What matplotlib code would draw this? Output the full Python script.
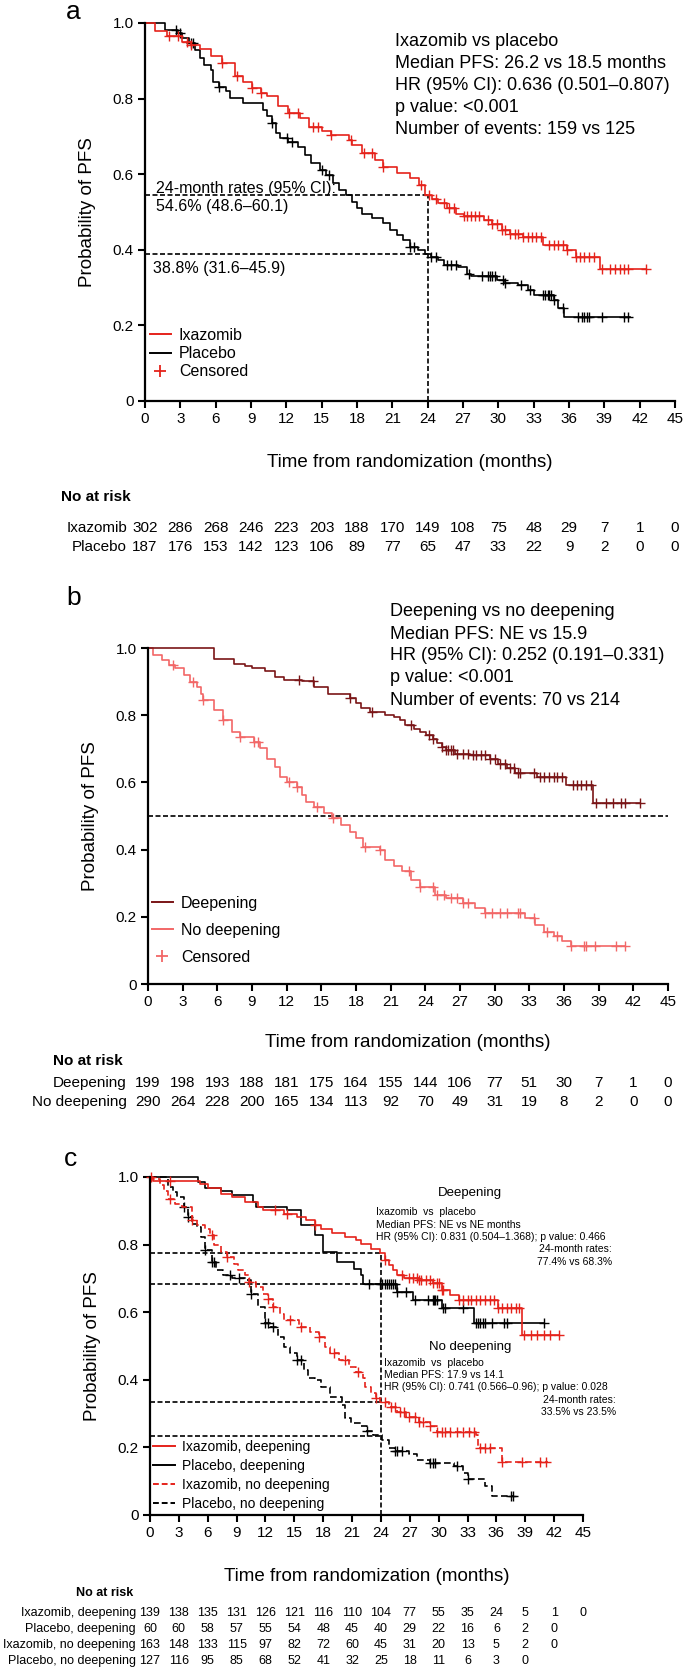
import numpy as np
import matplotlib
matplotlib.use("Agg")
import matplotlib.pyplot as plt
from matplotlib.lines import Line2D
from matplotlib.transforms import blended_transform_factory

plt.rcParams['font.family'] = ['Liberation Sans', 'DejaVu Sans']

W, H = 685, 1668

# ---------------- panel a : ixazomib vs placebo ----------------
a_ixa_t = [0, 0.85, 1.86, 3.16, 3.9, 4.64, 5.57, 6.5, 7.6, 8.35, 9.1, 9.84, 10.4, 11.3, 12.1, 13.2,
           13.9, 15.0, 15.8, 17.3, 17.6, 18.4, 19.5, 20.2, 21.4, 22.5, 23.3, 23.8, 24.4, 24.9, 25.6,
           26.4, 27.1, 28.8, 29.5, 30.3, 31.0, 32.1, 33.8, 35.8, 36.6, 38.6, 42.5]
a_ixa_s = [1.0, 0.98, 0.965, 0.95, 0.943, 0.93, 0.912, 0.893, 0.859, 0.845, 0.828, 0.815, 0.806, 0.78,
           0.761, 0.748, 0.726, 0.713, 0.704, 0.691, 0.678, 0.655, 0.638, 0.62, 0.602, 0.589, 0.572,
           0.546, 0.535, 0.523, 0.51, 0.496, 0.489, 0.479, 0.468, 0.452, 0.443, 0.435, 0.413, 0.399,
           0.382, 0.348, 0.348]
a_ixa_c = [2.04, 2.78, 3.53, 3.9, 6.5, 7.8, 9.1, 9.84, 12.25, 13.0, 14.3, 14.67, 15.8, 17.45, 18.57,
           19.3, 20.24, 23.4, 24.14, 24.7, 25.4, 25.8, 26.2, 27.1, 27.3, 27.7, 28.0, 28.4, 29.1, 29.5,
           29.9, 30.3, 30.6, 31.0, 31.4, 31.7, 32.1, 32.5, 32.9, 33.2, 33.6, 34.3, 34.7, 35.1, 35.5,
           35.8, 36.6, 36.9, 37.3, 37.7, 38.1, 38.8, 39.5, 39.9, 40.3, 40.7, 41.0, 42.5]
a_pla_t = [0, 1.67, 2.78, 3.16, 3.71, 4.27, 4.64, 5.01, 5.57, 5.76, 6.31, 6.87, 7.24, 8.35, 10.0, 10.4,
           10.8, 11.1, 11.5, 12.1, 13.0, 13.6, 14.1, 14.9, 15.4, 16.0, 16.5, 17.1, 17.6, 18.0, 18.4,
           19.3, 20.2, 20.8, 21.4, 21.9, 22.5, 23.2, 23.8, 24.3, 24.9, 25.4, 26.6, 27.3, 27.7, 29.9,
           30.6, 31.7, 32.5, 33.0, 34.7, 35.1, 35.6, 41.2]
a_pla_s = [1.0, 0.982, 0.973, 0.96, 0.947, 0.929, 0.907, 0.89, 0.876, 0.845, 0.832, 0.819, 0.801, 0.788,
           0.77, 0.753, 0.735, 0.708, 0.695, 0.686, 0.673, 0.651, 0.629, 0.611, 0.598, 0.576, 0.558,
           0.545, 0.527, 0.51, 0.496, 0.483, 0.47, 0.452, 0.439, 0.426, 0.408, 0.399, 0.388, 0.382,
           0.373, 0.36, 0.355, 0.337, 0.33, 0.32, 0.311, 0.307, 0.293, 0.28, 0.267, 0.245, 0.223, 0.223]
a_pla_c = [2.6, 2.97, 3.9, 4.08, 6.31, 10.8, 12.07, 12.44, 15.0, 15.6, 22.5, 22.8, 24.3, 24.7, 25.6,
           26.0, 26.4, 27.5, 28.6, 29.1, 29.3, 29.5, 29.7, 30.4, 30.6, 31.9, 32.7, 33.8, 34.0, 34.2,
           34.3, 34.5, 34.7, 35.5, 36.8, 37.1, 37.3, 37.5, 37.7, 38.8, 40.7, 41.0]
a_rate_24 = [0.546, 0.388]
a_risk_labels = ['Ixazomib', 'Placebo']
a_risk = [[302, 286, 268, 246, 223, 203, 188, 170, 149, 108, 75, 48, 29, 7, 1, 0],
          [187, 176, 153, 142, 123, 106, 89, 77, 65, 47, 33, 22, 9, 2, 0, 0]]
a_stats = ['Ixazomib vs placebo', 'Median PFS: 26.2 vs 18.5 months',
           'HR (95% CI): 0.636 (0.501\u20130.807)', 'p value: <0.001',
           'Number of events: 159 vs 125']

# ---------------- panel b : deepening vs no deepening ----------------
b_dp_t = [0, 5.75, 7.48, 8.4, 8.96, 10.1, 11.0, 11.8, 13.3, 14.4, 15.6, 17.5, 18.0, 18.4, 19.2, 20.5,
          21.3, 21.8, 22.2, 23.0, 23.5, 24.1, 24.7, 25.0, 25.4, 25.8, 26.6, 27.9, 29.6, 30.3, 31.1,
          31.8, 33.7, 36.2, 38.5, 42.6]
b_dp_s = [1.0, 0.968, 0.951, 0.945, 0.939, 0.932, 0.914, 0.906, 0.902, 0.884, 0.864, 0.85, 0.835, 0.82,
          0.81, 0.8, 0.795, 0.785, 0.77, 0.76, 0.75, 0.74, 0.73, 0.716, 0.706, 0.696, 0.686, 0.681,
          0.671, 0.656, 0.642, 0.627, 0.617, 0.592, 0.538, 0.538]
b_dp_c = [13.1, 14.3, 17.5, 19.4, 22.8, 24.3, 24.7, 25.4, 25.8, 26.0, 26.2, 26.4, 26.7, 27.3, 27.7,
          28.1, 28.4, 28.8, 29.2, 29.6, 30.0, 30.5, 30.9, 31.3, 31.7, 32.0, 32.2, 33.4, 33.9, 34.3,
          34.7, 35.1, 35.4, 35.8, 36.8, 37.1, 37.5, 37.9, 38.3, 38.8, 39.6, 40.2, 40.9, 41.3, 42.6]
b_nd_t = [0, 0.45, 1.21, 1.78, 2.34, 3.1, 3.67, 4.24, 4.61, 4.8, 5.75, 6.5, 7.26, 8.0, 9.15, 9.72, 10.3,
          11.0, 11.4, 12.0, 12.9, 13.3, 13.7, 14.4, 15.2, 15.96, 16.7, 17.5, 18.0, 18.6, 20.1, 20.5,
          21.3, 22.0, 22.8, 23.5, 24.8, 25.8, 27.3, 28.3, 29.2, 32.6, 33.5, 34.3, 35.1, 35.8, 36.6,
          41.3]
b_nd_s = [1.0, 0.98, 0.963, 0.949, 0.939, 0.919, 0.899, 0.884, 0.864, 0.845, 0.815, 0.785, 0.75, 0.736,
          0.721, 0.701, 0.671, 0.647, 0.617, 0.602, 0.587, 0.562, 0.543, 0.528, 0.508, 0.493, 0.473,
          0.453, 0.434, 0.409, 0.399, 0.369, 0.35, 0.335, 0.31, 0.29, 0.265, 0.255, 0.241, 0.226,
          0.211, 0.196, 0.176, 0.156, 0.144, 0.127, 0.112, 0.112]
b_nd_c = [2.16, 3.86, 4.8, 6.5, 8.0, 9.15, 9.5, 12.2, 12.9, 14.6, 16.0, 18.8, 20.1, 22.6, 23.5, 24.7,
          25.0, 25.6, 26.2, 26.7, 27.3, 27.7, 29.2, 29.8, 30.5, 31.1, 32.0, 32.2, 33.4, 34.5, 35.4,
          36.6, 37.7, 37.9, 38.7, 40.5, 41.3]
b_risk_labels = ['Deepening', 'No deepening']
b_risk = [[199, 198, 193, 188, 181, 175, 164, 155, 144, 106, 77, 51, 30, 7, 1, 0],
          [290, 264, 228, 200, 165, 134, 113, 92, 70, 49, 31, 19, 8, 2, 0, 0]]
b_stats = ['Deepening vs no deepening', 'Median PFS: NE vs 15.9',
           'HR (95% CI): 0.252 (0.191\u20130.331)', 'p value: <0.001',
           'Number of events: 70 vs 214']

# ---------------- panel c : by treatment and deepening ----------------
c_id_t = [0, 0.3, 5.2, 5.99, 7.35, 8.5, 9.85, 11.2, 11.7, 13.9, 15.3, 16.2, 17.1, 17.8, 18.9, 20.3,
          21.4, 21.9, 23.0, 23.9, 24.4, 24.8, 25.3, 25.7, 26.4, 28.0, 29.4, 30.3, 31.2, 32.1, 36.2,
          38.7, 42.5]
c_id_s = [1.0, 0.988, 0.98, 0.966, 0.951, 0.941, 0.926, 0.911, 0.901, 0.892, 0.882, 0.872, 0.857, 0.847,
          0.833, 0.823, 0.813, 0.803, 0.788, 0.774, 0.754, 0.739, 0.724, 0.709, 0.7, 0.695, 0.685,
          0.665, 0.65, 0.637, 0.611, 0.532, 0.532]
c_id_c = [0.1, 2.1, 13.0, 14.2, 17.1, 24.4, 26.2, 26.9, 27.3, 27.8, 28.0, 28.2, 28.7, 29.1, 29.4, 29.8,
          30.0, 30.3, 30.5, 32.1, 32.5, 33.0, 33.4, 33.9, 34.3, 34.8, 35.3, 35.7, 36.2, 36.6, 37.1,
          37.5, 38.0, 38.4, 38.9, 39.6, 40.2, 40.9, 41.6, 42.5]
c_pd_t = [0, 5.0, 5.7, 7.35, 8.5, 10.7, 11.0, 14.2, 15.7, 17.1, 18.0, 19.4, 21.2, 21.9, 22.1, 25.7, 27.3,
          30.3, 33.7, 40.9]
c_pd_s = [1.0, 0.985, 0.966, 0.959, 0.946, 0.926, 0.911, 0.901, 0.857, 0.828, 0.778, 0.749, 0.729, 0.709,
          0.683, 0.66, 0.637, 0.611, 0.568, 0.568]
c_pd_c = [22.8, 23.9, 24.1, 24.4, 24.6, 24.8, 25.0, 25.3, 25.5, 25.7, 26.6, 27.5, 28.9, 29.4, 29.5, 29.6,
          29.8, 30.5, 30.7, 32.5, 33.9, 34.1, 34.3, 34.6, 34.8, 35.5, 36.8, 37.1, 40.9]
c_in_t = [0, 0.3, 1.0, 1.45, 1.9, 2.6, 3.3, 4.4, 4.85, 5.76, 6.2, 6.67, 7.35, 8.0, 8.7, 9.15, 9.85, 10.3,
          10.98, 11.7, 12.3, 12.8, 13.5, 13.9, 15.5, 16.6, 17.6, 18.2, 18.7, 19.6, 20.7, 21.4, 22.1,
          22.3, 23.0, 23.5, 23.9, 24.8, 25.7, 26.6, 28.0, 29.1, 29.8, 33.9, 34.1, 36.6, 41.4]
c_in_s = [1.0, 0.995, 0.975, 0.96, 0.936, 0.921, 0.911, 0.872, 0.857, 0.847, 0.828, 0.798, 0.778, 0.764,
          0.744, 0.724, 0.709, 0.69, 0.675, 0.655, 0.64, 0.616, 0.596, 0.576, 0.557, 0.542, 0.527,
          0.498, 0.478, 0.458, 0.438, 0.424, 0.404, 0.38, 0.36, 0.345, 0.335, 0.321, 0.306, 0.291,
          0.276, 0.262, 0.247, 0.237, 0.197, 0.158, 0.158]
c_in_c = [2.1, 4.4, 6.4, 8.0, 10.3, 12.3, 12.8, 14.6, 15.7, 17.6, 19.1, 20.3, 21.6, 23.5, 24.4, 25.0,
          25.5, 26.0, 26.4, 26.9, 27.5, 28.0, 28.4, 29.1, 29.8, 30.3, 30.7, 31.2, 31.9, 32.5, 33.2,
          33.7, 34.3, 34.8, 35.3, 36.6, 38.7, 40.5, 41.2]
c_pn_t = [0, 1.9, 2.4, 2.8, 3.5, 3.95, 4.4, 4.85, 5.3, 5.76, 6.4, 6.9, 7.6, 8.5, 10.1, 10.5, 11.2, 11.9,
          12.6, 13.3, 13.9, 14.6, 15.3, 16.0, 16.4, 17.1, 17.8, 18.7, 20.0, 20.3, 20.9, 21.9, 22.6,
          23.2, 24.1, 24.8, 25.5, 26.9, 27.8, 29.1, 31.6, 32.5, 33.0, 34.8, 35.5, 37.7]
c_pn_s = [1.0, 0.97, 0.956, 0.941, 0.911, 0.882, 0.862, 0.852, 0.823, 0.783, 0.749, 0.724, 0.709, 0.7,
          0.695, 0.655, 0.616, 0.567, 0.557, 0.527, 0.498, 0.478, 0.458, 0.429, 0.404, 0.399, 0.379,
          0.35, 0.325, 0.287, 0.272, 0.263, 0.248, 0.238, 0.223, 0.198, 0.189, 0.179, 0.164, 0.154,
          0.145, 0.125, 0.106, 0.087, 0.057, 0.057]
c_pn_c = [3.5, 3.95, 5.76, 6.4, 6.7, 8.3, 9.2, 10.5, 11.9, 12.3, 12.8, 15.3, 15.7, 22.6, 25.5, 25.7,
          26.2, 29.1, 29.4, 29.6, 31.9, 33.0, 37.5, 37.7]
c_rate_24 = [0.774, 0.683, 0.335, 0.235]
c_risk_labels = ['Ixazomib, deepening', 'Placebo, deepening', 'Ixazomib, no deepening',
                 'Placebo, no deepening']
c_risk = [[139, 138, 135, 131, 126, 121, 116, 110, 104, 77, 55, 35, 24, 5, 1, 0],
          [60, 60, 58, 57, 55, 54, 48, 45, 40, 29, 22, 16, 6, 2, 0],
          [163, 148, 133, 115, 97, 82, 72, 60, 45, 31, 20, 13, 5, 2, 0],
          [127, 116, 95, 85, 68, 52, 41, 32, 25, 18, 11, 6, 3, 0]]
c_deep_txt = ['Ixazomib  vs  placebo', 'Median PFS: NE vs NE months',
              'HR (95% CI): 0.831 (0.504\u20131.368); p value: 0.466']
c_deep_rate = ['24-month rates:', '77.4% vs 68.3%']
c_nodeep_txt = ['Ixazomib  vs  placebo', 'Median PFS: 17.9 vs 14.1',
                'HR (95% CI): 0.741 (0.566\u20130.96); p value: 0.028']
c_nodeep_rate = ['24-month rates:', '33.5% vs 23.5%']

months = np.arange(0, 46, 3)
RED = '#e5231b'
DARKRED = '#7a1517'
SALMON = '#f26767'


def fx(x):
    return x / W


def fy(y):
    return 1 - y / H


def km(ax, t, s, cens, color, ls='-'):
    t = np.asarray(t)
    s = np.asarray(s)
    ax.step(t, s, where='post', color=color, lw=1.2, ls=ls, clip_on=False)
    idx = np.searchsorted(t, cens, side='right') - 1
    ax.plot(cens, s[idx], ls='none', marker='+', ms=6.5, mew=1.0, color=color, clip_on=False)


def setup(ax, tsize=11):
    ax.set_xlim(0, 45)
    ax.set_ylim(0, 1)
    for sp in ['top', 'right']:
        ax.spines[sp].set_visible(False)
    for sp in ['left', 'bottom']:
        ax.spines[sp].set_linewidth(1.6)
    ax.set_xticks(months)
    ax.set_yticks([0, 0.2, 0.4, 0.6, 0.8, 1.0])
    ax.set_yticklabels(['0', '0.2', '0.4', '0.6', '0.8', '1.0'])
    ax.tick_params(direction='out', length=5, width=1.5, labelsize=tsize, pad=3)


def risk_table(fig, ax, title_xy, labels, rows, ys, label_right, size):
    fig.text(fx(title_xy[0]), fy(title_xy[1]), 'No at risk', fontsize=size, fontweight='bold',
             va='center', ha='left')
    tr = blended_transform_factory(ax.transData, fig.transFigure)
    for lab, row, y in zip(labels, rows, ys):
        fig.text(fx(label_right), fy(y), lab, fontsize=size, ha='right', va='center')
        for m, n in zip(months, row):
            ax.text(m, fy(y), str(n), transform=tr, fontsize=size, ha='center', va='center',
                    clip_on=False)


fig = plt.figure(figsize=(W / 100, H / 100), dpi=100)

# ---------- a ----------
ax = fig.add_axes([fx(145), fy(401), 530 / W, 378 / H])
setup(ax)
for r in a_rate_24:
    ax.plot([0, 24], [r, r], color='black', lw=1.2, ls=(0, (3, 1.5)))
ax.plot([24, 24], [0, a_rate_24[0]], color='black', lw=1.2, ls=(0, (3, 1.5)))
km(ax, a_pla_t, a_pla_s, a_pla_c, 'black')
km(ax, a_ixa_t, a_ixa_s, a_ixa_c, RED)
ax.set_ylabel('Probability of PFS', fontsize=13.5, labelpad=12)
ax.set_xlabel('Time from randomization (months)', fontsize=13.5, labelpad=20)
h = [Line2D([], [], color=RED, lw=1.4), Line2D([], [], color='black', lw=1.4),
     Line2D([], [], color=RED, ls='none', marker='+', ms=9, mew=1.3)]
fig.legend(h, ['Ixazomib', 'Placebo', 'Censored'], loc='upper left',
           bbox_to_anchor=(fx(150), fy(328)), frameon=False, fontsize=11.5, handlelength=1.3,
           handletextpad=0.5, labelspacing=0.2, borderpad=0, borderaxespad=0)
for i, s in enumerate(a_stats):
    fig.text(fx(395), fy(41 + 22 * i), s, fontsize=13, va='center')
fig.text(fx(156), fy(188), '24-month rates (95% CI):', fontsize=11.5, va='center')
fig.text(fx(156), fy(207), '54.6% (48.6\u201360.1)', fontsize=11.5, va='center')
fig.text(fx(153), fy(268), '38.8% (31.6\u201345.9)', fontsize=11.5, va='center')
fig.text(fx(66), fy(12), 'a', fontsize=19, va='center')
risk_table(fig, ax, (61, 497), a_risk_labels, a_risk, [528, 547], 127, 11)

# ---------- b ----------
ax = fig.add_axes([fx(148), fy(984), 520 / W, 336 / H])
setup(ax)
ax.plot([0, 45], [0.5, 0.5], color='black', lw=1.2, ls=(0, (3, 1.5)))
km(ax, b_nd_t, b_nd_s, b_nd_c, SALMON)
km(ax, b_dp_t, b_dp_s, b_dp_c, DARKRED)
ax.set_ylabel('Probability of PFS', fontsize=13.5, labelpad=12)
ax.set_xlabel('Time from randomization (months)', fontsize=13.5, labelpad=18)
h = [Line2D([], [], color=DARKRED, lw=1.4), Line2D([], [], color=SALMON, lw=1.4),
     Line2D([], [], color=SALMON, ls='none', marker='+', ms=9, mew=1.3)]
fig.legend(h, ['Deepening', 'No deepening', 'Censored'], loc='upper left',
           bbox_to_anchor=(fx(152), fy(896)), frameon=False, fontsize=11.5, handlelength=1.3,
           handletextpad=0.5, labelspacing=0.75, borderpad=0, borderaxespad=0)
for i, s in enumerate(b_stats):
    fig.text(fx(390), fy(612 + 22 * i), s, fontsize=13, va='center')
fig.text(fx(66), fy(598), 'b', fontsize=19, va='center')
risk_table(fig, ax, (53, 1061), b_risk_labels, b_risk, [1083, 1102], 127, 11)

# ---------- c ----------
ax = fig.add_axes([fx(150), fy(1515), 433 / W, 338 / H])
setup(ax)
for r in c_rate_24:
    ax.plot([0, 24], [r, r], color='black', lw=1.2, ls=(0, (3, 1.5)))
ax.plot([24, 24], [0, c_rate_24[0]], color='black', lw=1.2, ls=(0, (3, 1.5)))
km(ax, c_pn_t, c_pn_s, c_pn_c, 'black', ls=(0, (4, 2)))
km(ax, c_in_t, c_in_s, c_in_c, RED, ls=(0, (4, 2)))
km(ax, c_pd_t, c_pd_s, c_pd_c, 'black')
km(ax, c_id_t, c_id_s, c_id_c, RED)
ax.set_ylabel('Probability of PFS', fontsize=13.5, labelpad=12)
ax.set_xlabel('Time from randomization (months)', fontsize=13.5, labelpad=20)
h = [Line2D([], [], color=RED, lw=1.4), Line2D([], [], color='black', lw=1.4),
     Line2D([], [], color=RED, lw=1.4, ls=(0, (3, 1.5))),
     Line2D([], [], color='black', lw=1.4, ls=(0, (3, 1.5)))]
fig.legend(h, c_risk_labels, loc='upper left', bbox_to_anchor=(fx(153), fy(1440)), frameon=False,
           fontsize=10, handlelength=1.6, handletextpad=0.5, labelspacing=0.35, borderpad=0,
           borderaxespad=0)
fig.text(fx(470), fy(1193), 'Deepening', fontsize=9.5, ha='center', va='center')
for i, s in enumerate(c_deep_txt):
    fig.text(fx(376), fy(1212 + 12.5 * i), s, fontsize=7.5, va='center')
for i, s in enumerate(c_deep_rate):
    fig.text(fx(612), fy(1249.5 + 12.5 * i), s, fontsize=7.5, va='center', ha='right')
fig.text(fx(470), fy(1347), 'No deepening', fontsize=9.5, ha='center', va='center')
for i, s in enumerate(c_nodeep_txt):
    fig.text(fx(384), fy(1363 + 12.2 * i), s, fontsize=7.5, va='center')
for i, s in enumerate(c_nodeep_rate):
    fig.text(fx(616), fy(1400 + 12.2 * i), s, fontsize=7.5, va='center', ha='right')
fig.text(fx(64), fy(1159), 'c', fontsize=19, va='center')
risk_table(fig, ax, (76, 1593), c_risk_labels, c_risk, [1613, 1629, 1645, 1661], 136, 9)

fig.savefig('out.png', dpi=100)
